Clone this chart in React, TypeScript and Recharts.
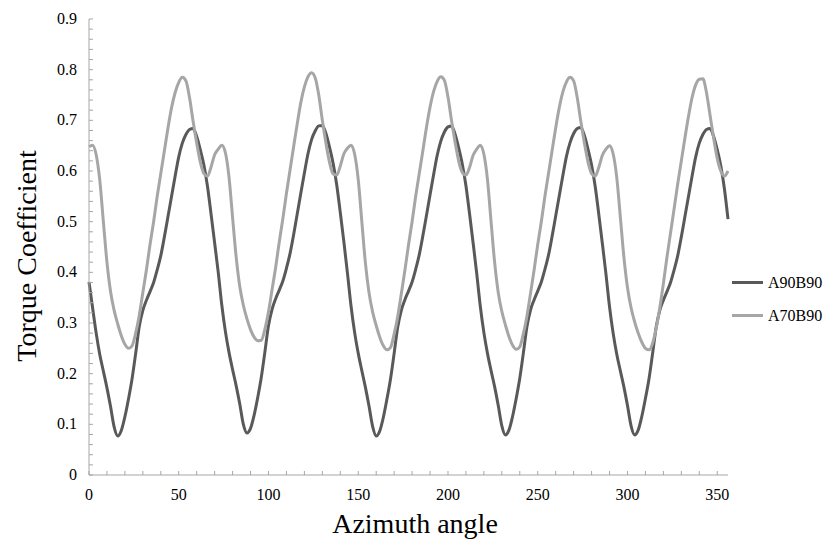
import React from 'react';
import { LineChart, Line, XAxis, YAxis, Legend } from 'recharts';

// sampled every 2 degrees, 0..356
const angles = Array.from({ length: 179 }, (_, i) => i * 2);

const a90b90 = [
  // 0..70
  0.381, 0.33, 0.28, 0.238, 0.205, 0.172, 0.135, 0.095, 0.077, 0.088, 0.115, 0.15, 0.19, 0.24, 0.293, 0.325, 0.345, 0.362,
  0.38, 0.405, 0.433, 0.47, 0.51, 0.55, 0.59, 0.628, 0.655, 0.672, 0.682, 0.684, 0.668, 0.642, 0.612, 0.57, 0.515, 0.458,
  // 72..142
  0.4, 0.335, 0.283, 0.242, 0.208, 0.176, 0.14, 0.1, 0.083, 0.092, 0.118, 0.153, 0.193, 0.243, 0.295, 0.327, 0.348, 0.365,
  0.383, 0.408, 0.437, 0.474, 0.515, 0.556, 0.596, 0.634, 0.662, 0.679, 0.689, 0.69, 0.674, 0.647, 0.615, 0.573, 0.518, 0.46,
  // 144..214
  0.398, 0.333, 0.281, 0.24, 0.206, 0.173, 0.136, 0.096, 0.077, 0.087, 0.114, 0.15, 0.19, 0.24, 0.292, 0.325, 0.346, 0.363,
  0.381, 0.406, 0.435, 0.472, 0.512, 0.553, 0.593, 0.631, 0.659, 0.677, 0.687, 0.689, 0.672, 0.645, 0.613, 0.571, 0.516, 0.458,
  // 216..286
  0.398, 0.333, 0.281, 0.24, 0.206, 0.174, 0.137, 0.097, 0.079, 0.089, 0.116, 0.151, 0.191, 0.241, 0.293, 0.326, 0.346, 0.363,
  0.381, 0.406, 0.434, 0.471, 0.511, 0.551, 0.591, 0.629, 0.656, 0.674, 0.684, 0.686, 0.67, 0.643, 0.612, 0.57, 0.515, 0.457,
  // 288..356
  0.397, 0.332, 0.28, 0.239, 0.206, 0.174, 0.137, 0.097, 0.079, 0.089, 0.116, 0.151, 0.19, 0.24, 0.292, 0.325, 0.345, 0.362,
  0.38, 0.405, 0.433, 0.47, 0.51, 0.55, 0.59, 0.628, 0.655, 0.672, 0.682, 0.684, 0.668, 0.642, 0.61, 0.565, 0.505,
];

const a70b90 = [
  // 0..70
  0.648, 0.651, 0.632, 0.582, 0.5, 0.42, 0.362, 0.325, 0.298, 0.275, 0.258, 0.25, 0.255, 0.28, 0.315, 0.36, 0.405, 0.455,
  0.5, 0.55, 0.595, 0.64, 0.685, 0.725, 0.755, 0.775, 0.785, 0.778, 0.745, 0.698, 0.655, 0.618, 0.595, 0.59, 0.608, 0.632,
  // 72..142
  0.643, 0.651, 0.636, 0.588, 0.508, 0.43, 0.372, 0.335, 0.308, 0.287, 0.272, 0.265, 0.266, 0.288, 0.322, 0.366, 0.41, 0.46,
  0.506, 0.556, 0.602, 0.648, 0.693, 0.735, 0.766, 0.786, 0.794, 0.784, 0.75, 0.7, 0.655, 0.617, 0.594, 0.592, 0.61, 0.634,
  // 144..214
  0.645, 0.651, 0.633, 0.583, 0.5, 0.418, 0.36, 0.322, 0.295, 0.272, 0.255, 0.247, 0.252, 0.278, 0.313, 0.358, 0.404, 0.454,
  0.5, 0.55, 0.595, 0.64, 0.686, 0.726, 0.757, 0.777, 0.786, 0.779, 0.746, 0.699, 0.656, 0.619, 0.597, 0.592, 0.607, 0.631,
  // 216..286
  0.643, 0.651, 0.633, 0.583, 0.5, 0.419, 0.36, 0.323, 0.296, 0.273, 0.256, 0.248, 0.253, 0.279, 0.314, 0.359, 0.405, 0.455,
  0.5, 0.55, 0.595, 0.64, 0.685, 0.725, 0.756, 0.776, 0.785, 0.778, 0.745, 0.698, 0.655, 0.618, 0.595, 0.59, 0.607, 0.631,
  // 288..356
  0.643, 0.65, 0.634, 0.588, 0.51, 0.43, 0.37, 0.33, 0.302, 0.28, 0.262, 0.25, 0.247, 0.26, 0.29, 0.33, 0.378, 0.43,
  0.478, 0.526, 0.575, 0.62, 0.665, 0.708, 0.745, 0.77, 0.781, 0.782, 0.755, 0.71, 0.665, 0.625, 0.6, 0.59, 0.6,
];

const seriesOrder = ['A90B90', 'A70B90'];
const xTicks = Array.from({ length: 36 }, (_, i) => i * 10);
const xLabels = [0, 50, 100, 150, 200, 250, 300, 350];
const yTicks = Array.from({ length: 46 }, (_, i) => +(i * 0.02).toFixed(2));
const yLabels = ['0', '0.1', '0.2', '0.3', '0.4', '0.5', '0.6', '0.7', '0.8', '0.9'];

const data = angles.map((deg, i) => ({ deg, A90B90: a90b90[i], A70B90: a70b90[i] }));

const FONT = '"Liberation Serif", "Times New Roman", serif';
const AXIS = '#a6a6a6';
const DARK = '#595959';
const LIGHT = '#a6a6a6';

const XTick = ({ x, y, payload }: any) => {
  const v = payload.value;
  return (
    <g>
      <line x1={x} x2={x} y1={y} y2={y - 4} stroke={AXIS} />
      {xLabels.includes(v) && (
        <text x={x} y={y + 25} textAnchor="middle" fontSize={16} style={{ fontFamily: FONT }} fill="#000">
          {v}
        </text>
      )}
    </g>
  );
};

const YTick = ({ x, y, payload }: any) => {
  const v = payload.value;
  const idx = Math.round(v * 10);
  const major = Math.abs(v * 10 - idx) < 1e-6;
  return (
    <g>
      <line x1={x} x2={x + 4} y1={y} y2={y} stroke={AXIS} />
      {major && (
        <text x={x - 12} y={y + 5} textAnchor="end" fontSize={16} style={{ fontFamily: FONT }} fill="#000">
          {yLabels[idx]}
        </text>
      )}
    </g>
  );
};

const renderLegend = (props: any) => {
  const items = [...props.payload].sort(
    (a: any, b: any) => seriesOrder.indexOf(a.value) - seriesOrder.indexOf(b.value)
  );
  return (
    <div style={{ fontFamily: FONT, fontSize: 16, color: '#000' }}>
      {items.map((p: any) => (
        <div key={p.value} style={{ display: 'flex', alignItems: 'center', height: 33 }}>
          <span style={{ display: 'inline-block', width: 31, height: 3, background: p.color, marginRight: 5 }} />
          <span>{p.value}</span>
        </div>
      ))}
    </div>
  );
};

export default function App() {
  return (
    <div style={{ position: 'absolute', left: 0, top: 0, width: 824, height: 540, background: '#fff' }}>
      <LineChart width={824} height={540} data={data} margin={{ top: 19, right: 96, bottom: 35, left: 29 }}>
        <XAxis
          dataKey="deg"
          type="number"
          domain={[0, 356]}
          ticks={xTicks}
          interval={0}
          tick={<XTick />}
          tickLine={false}
          tickSize={0}
          tickMargin={0}
          height={30}
          axisLine={{ stroke: AXIS }}
          label={{
            content: () => (
              <text x={415} y={533} textAnchor="middle" fontSize={28} style={{ fontFamily: FONT }} fill="#000">
                Azimuth angle
              </text>
            ),
          }}
        />
        <YAxis
          type="number"
          domain={[0, 0.9]}
          ticks={yTicks}
          interval={0}
          tick={<YTick />}
          tickLine={false}
          tickSize={0}
          tickMargin={0}
          width={60}
          axisLine={{ stroke: AXIS }}
          label={{
            content: () => (
              <text
                x={36}
                y={256}
                transform="rotate(-90 36 256)"
                textAnchor="middle"
                fontSize={28}
                style={{ fontFamily: FONT }}
                fill="#000"
              >
                Torque Coefficient
              </text>
            ),
          }}
        />
        <Legend
          layout="horizontal"
          align="center"
          verticalAlign="middle"
          content={renderLegend}
          wrapperStyle={{ left: 732, top: 266, width: 92 }}
        />
        <Line type="monotone" dataKey="A90B90" stroke={DARK} strokeWidth={3} dot={false} isAnimationActive={false} />
        <Line type="monotone" dataKey="A70B90" stroke={LIGHT} strokeWidth={3} dot={false} isAnimationActive={false} />
      </LineChart>
    </div>
  );
}
